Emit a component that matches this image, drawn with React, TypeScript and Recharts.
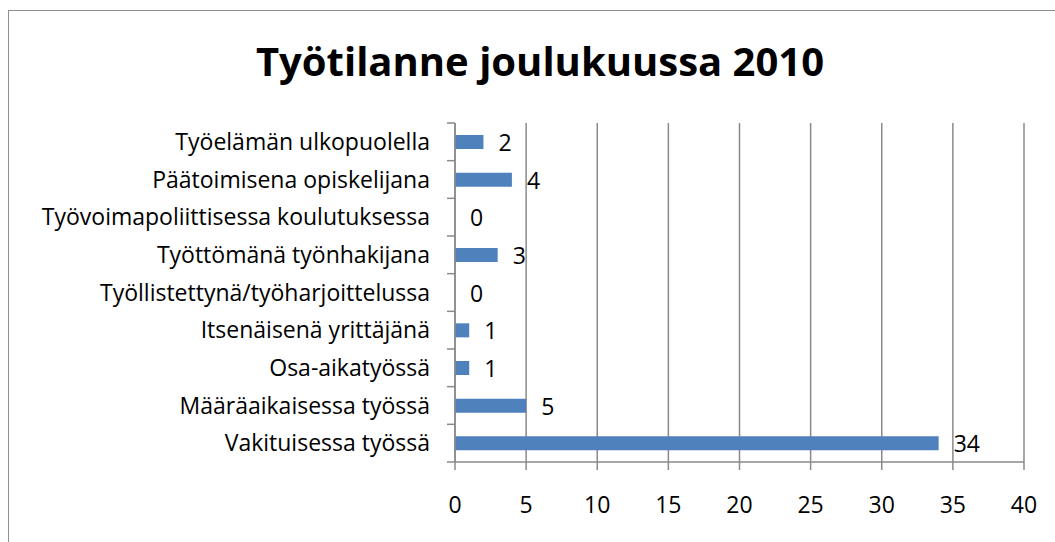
import { BarChart, Bar, XAxis, YAxis, CartesianGrid, LabelList } from "recharts";

const categories = [
  "Työelämän ulkopuolella",
  "Päätoimisena opiskelijana",
  "Työvoimapoliittisessa koulutuksessa",
  "Työttömänä työnhakijana",
  "Työllistettynä/työharjoittelussa",
  "Itsenäisenä yrittäjänä",
  "Osa-aikatyössä",
  "Määräaikaisessa työssä",
  "Vakituisessa työssä",
];
const values = [2, 4, 0, 3, 0, 1, 1, 5, 34];
const xTicks = [0, 5, 10, 15, 20, 25, 30, 35, 40];

const data = categories.map((name, i) => ({ name, value: values[i] }));

const GRAY = "#8a8a8a";
const FONT = "'Open Sans', sans-serif";
const FS = 23;

function CategoryTick(props: any) {
  const { x, y, payload, index, visibleTicksCount } = props;
  const half = payload.offset || 0;
  return (
    <g>
      <line x1={x + 17} x2={x + 25} y1={y - half} y2={y - half} stroke={GRAY} strokeWidth={1.5} />
      {index === visibleTicksCount - 1 && (
        <line x1={x + 17} x2={x + 25} y1={y + half} y2={y + half} stroke={GRAY} strokeWidth={1.5} />
      )}
      <text x={x} y={y} dy="0.35em" textAnchor="end" fill="#000" fontSize={FS} fontFamily={FONT}>
        {payload.value}
      </text>
    </g>
  );
}

function ValueLabel(props: any) {
  const { x, y, width, height, value } = props;
  return (
    <text
      x={Number(x) + Number(width || 0) + 15}
      y={Number(y) + Number(height) / 2 + 1}
      dy="0.35em"
      textAnchor="start"
      fill="#000"
      fontSize={FS}
      fontFamily={FONT}
    >
      {String(value)}
    </text>
  );
}

export default function App() {
  return (
    <div style={{ position: "absolute", left: 0, top: 0, width: 1055, height: 542, background: "#fff", fontFamily: FONT }}>
      <div
        style={{
          position: "absolute",
          left: 8,
          top: 10,
          width: 1060,
          height: 545,
          border: "1.5px solid #8f8f8f",
          boxSizing: "border-box",
        }}
      />
      <div
        style={{
          position: "absolute",
          left: 0,
          top: 33,
          width: 1080,
          textAlign: "center",
          fontSize: 40,
          fontWeight: 700,
          color: "#000",
        }}
      >
        Työtilanne joulukuussa 2010
      </div>
      <div style={{ position: "absolute", left: 0, top: 0 }}>
        <BarChart
          width={1055}
          height={542}
          data={data}
          layout="vertical"
          margin={{ top: 123, right: 31, bottom: 0, left: 0 }}
        >
          <CartesianGrid horizontal={false} vertical stroke={GRAY} strokeWidth={1.5} />
          <XAxis
            type="number"
            domain={[0, 40]}
            ticks={xTicks}
            interval={0}
            height={80}
            tickSize={8}
            tickMargin={27}
            axisLine={{ stroke: GRAY, strokeWidth: 1.5 }}
            tickLine={{ stroke: GRAY, strokeWidth: 1.5 }}
            tick={{ fill: "#000", fontSize: FS, fontFamily: FONT }}
          />
          <YAxis
            type="category"
            dataKey="name"
            width={455}
            interval={0}
            tickSize={0}
            tickMargin={25}
            tickLine={false}
            axisLine={{ stroke: GRAY, strokeWidth: 1.5 }}
            tick={<CategoryTick />}
          />
          <Bar dataKey="value" fill="#4f81bd" barSize={14} minPointSize={0.01} isAnimationActive={false}>
            <LabelList dataKey="value" content={<ValueLabel />} />
          </Bar>
        </BarChart>
      </div>
    </div>
  );
}
